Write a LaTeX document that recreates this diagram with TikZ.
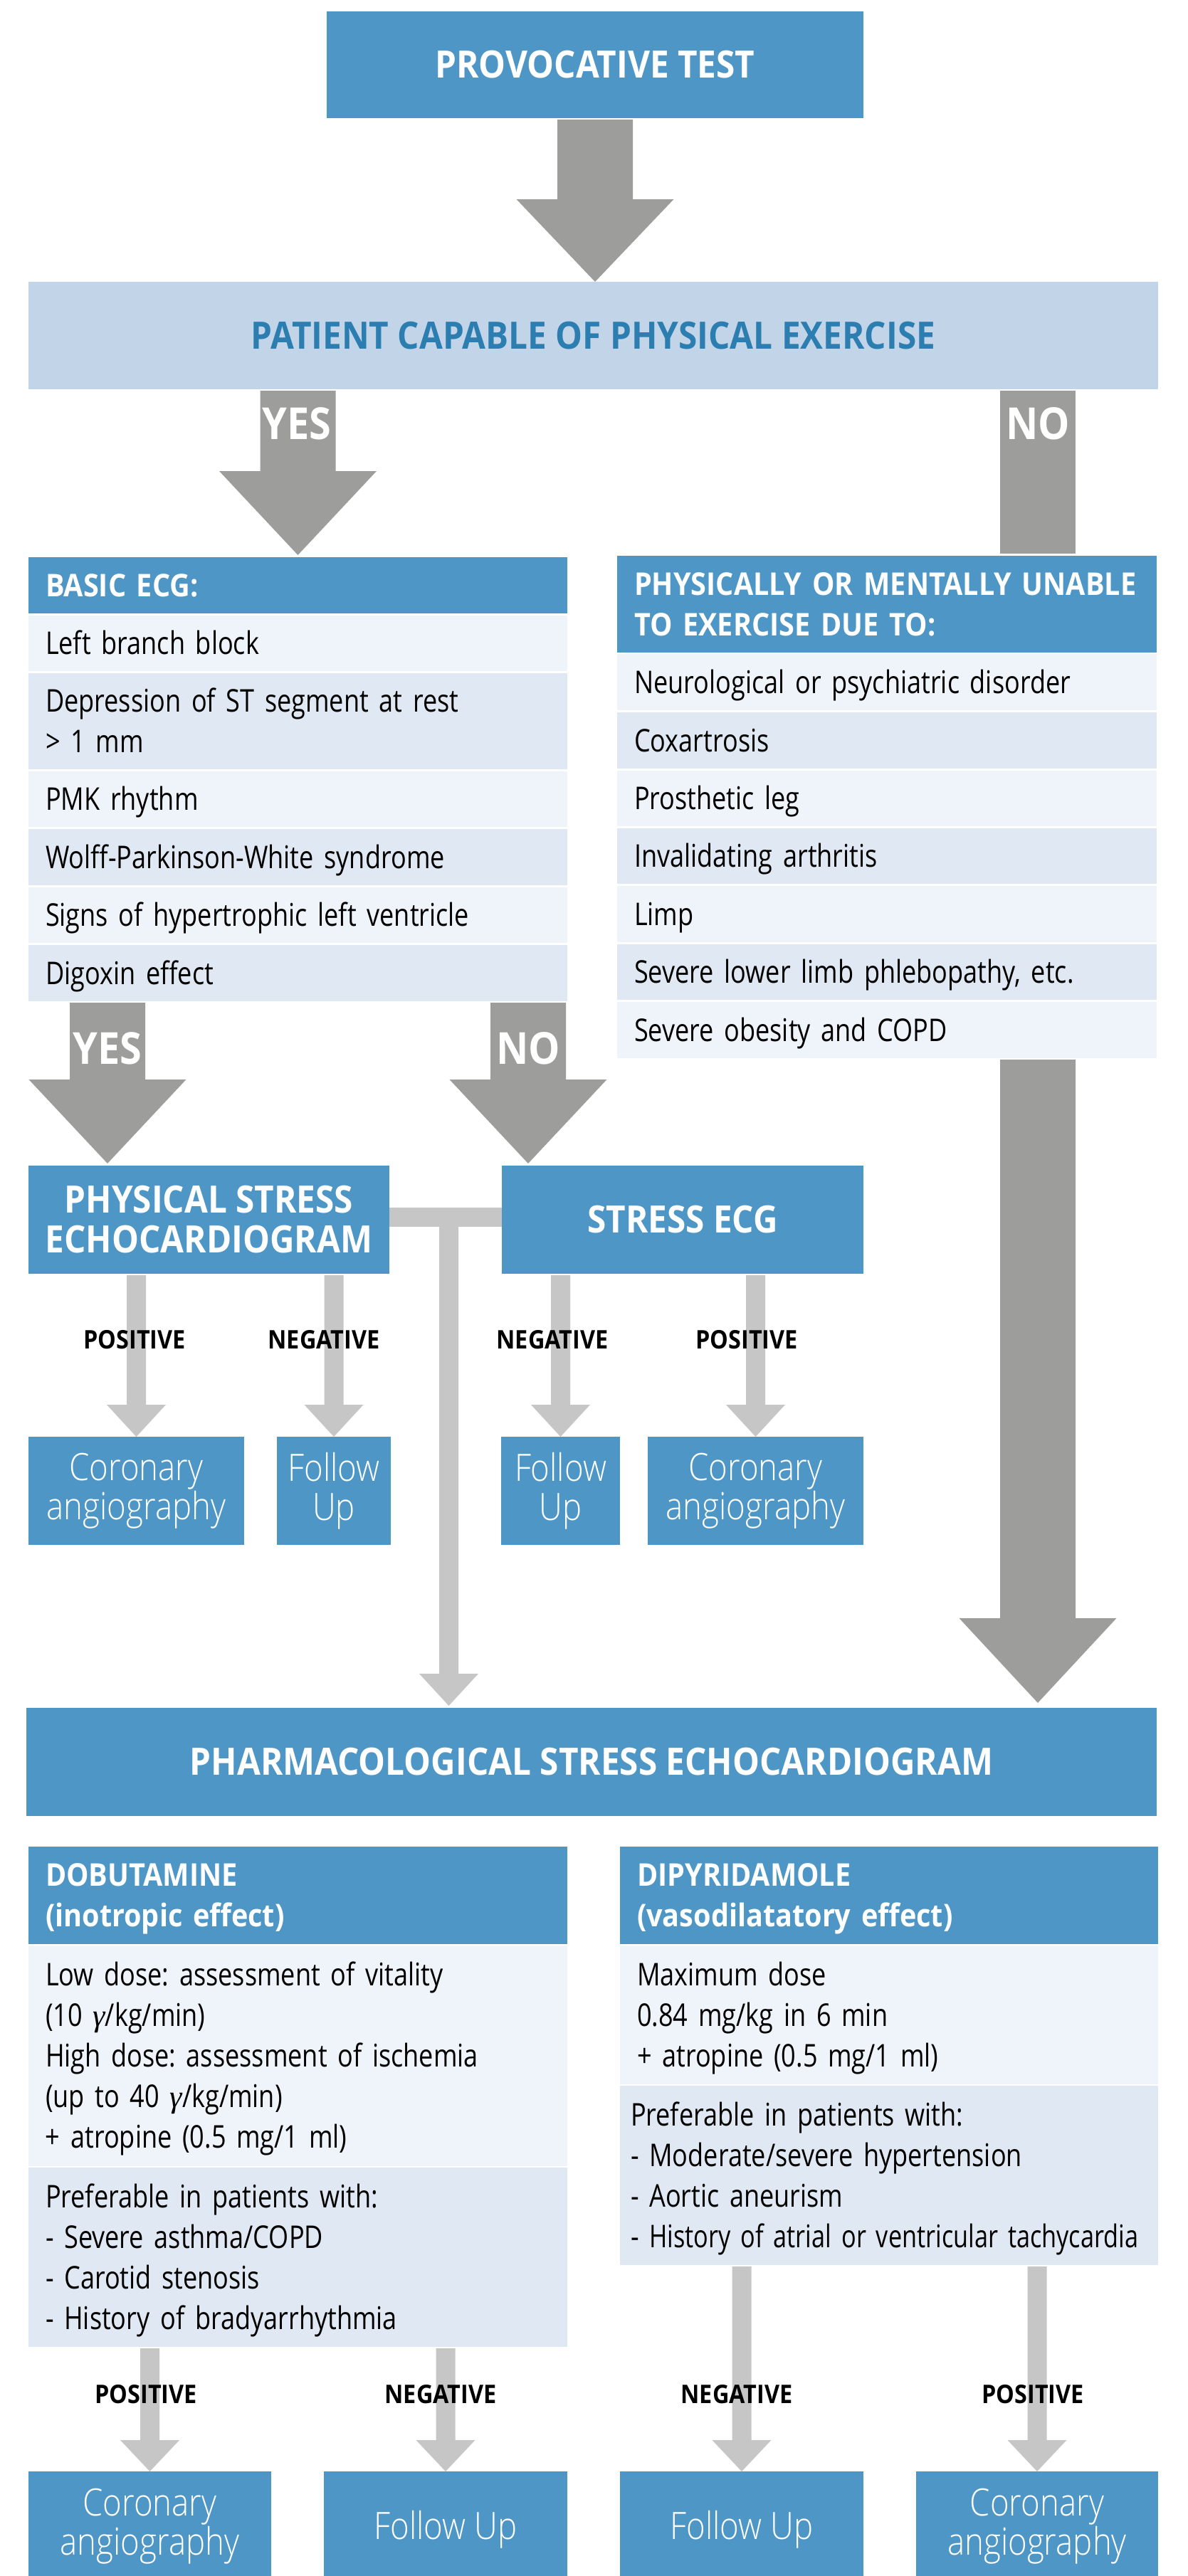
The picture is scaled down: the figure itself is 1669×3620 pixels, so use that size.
\documentclass[tikz,border=0pt]{standalone}
\usepackage{fontspec}
\usepackage{graphicx}
\setmainfont{Open Sans}[FakeStretch=0.82,BoldFeatures={FakeStretch=0.90}]
\newfontfamily\lightfont{Open Sans}[UprightFont=* Light,FakeStretch=0.86]
\newfontfamily\gfont{Liberation Serif}
\newcommand\gam{{\gfont\itshape γ}}
\usetikzlibrary{calc}
\frenchspacing
\definecolor{boxblue}{RGB}{78,150,197}
\definecolor{headlight}{RGB}{194,212,232}
\definecolor{titleblue}{RGB}{44,125,176}
\definecolor{darkarrow}{RGB}{157,157,156}
\definecolor{lightarrow}{RGB}{198,198,198}
\definecolor{rowlight}{RGB}{239,243,250}
\definecolor{rowdark}{RGB}{224,232,243}
\newcommand\rowstrut{\rule[-11pt]{0pt}{53.4pt}}
\newcommand\resstrut{\rule{0pt}{50.5pt}}
% #1 colour, #2 start, #3 end (same x), #4 half shaft, #5 half head, #6 head length
\newcommand\fatarrow[6]{%
  \fill[#1] let \p1=#2, \p2=#3 in
    (\x1-#4pt,\y1-2pt) -- (\x1+#4pt,\y1-2pt) -- (\x1+#4pt,\y2+#6pt) -- (\x1+#5pt,\y2+#6pt)
    -- (\x1,\y2) -- (\x1-#5pt,\y2+#6pt) -- (\x1-#4pt,\y2+#6pt) -- cycle;}
\begin{document}
\begin{tikzpicture}[x=1pt,y=-1pt,
  every node/.style={inner sep=0pt,outer sep=0pt},
  bluebox/.style={fill=boxblue,text=white,anchor=north west,align=center},
  titlefont/.style={font=\bfseries\fontsize{53}{56}\selectfont},
  resfont/.style={font=\lightfont\fontsize{53}{55}\selectfont,execute at begin node=\resstrut},
  headrow/.style={fill=boxblue,text=white,anchor=north west,align=left,
    font=\bfseries\fontsize{44}{57}\selectfont,inner xsep=24pt,
    execute at begin node=\rowstrut,execute at end node=\rowstrut},
  lightrow/.style={fill=rowlight,text=black,anchor=north west,align=left,
    font=\fontsize{44}{57}\selectfont,inner xsep=24pt,
    execute at begin node=\rowstrut,execute at end node=\rowstrut},
  darkrow/.style={lightrow,fill=rowdark},
  yesno/.style={text=white,font=\bfseries\fontsize{62}{62}\selectfont},
  reslabel/.style={text=black,font=\bfseries\fontsize{36}{36}\selectfont},
]
\fill[white] (0,0) rectangle (1669,3620);
\useasboundingbox (0,0) rectangle (1669,3620);

% ---------- top ----------
\node[bluebox,font=\bfseries\fontsize{53}{56}\selectfont,minimum width=754pt,minimum height=150pt] (prov) at (459,16) {PROVOCATIVE TEST};
\node[fill=headlight,text=titleblue,titlefont,anchor=north west,minimum width=1587pt,minimum height=151pt] (patient) at (40,396) {PATIENT CAPABLE OF PHYSICAL EXERCISE};

% ---------- basic ECG list ----------
\node[headrow,text width=709pt,minimum height=79pt] (ecgh) at (40,783) {BASIC ECG:};
\node[lightrow,text width=709pt,minimum height=78pt] (ecg1) at (40,865) {Left branch block};
\node[darkrow,text width=709pt,minimum height=135pt] (ecg2) at (40,946) {Depression of ST segment at rest\\> 1 mm};
\node[lightrow,text width=709pt,minimum height=78pt] (ecg3) at (40,1084) {PMK rhythm};
\node[darkrow,text width=709pt,minimum height=79pt] (ecg4) at (40,1165) {Wolff-Parkinson-White syndrome};
\node[lightrow,text width=709pt,minimum height=78pt] (ecg5) at (40,1247) {Signs of hypertrophic left ventricle};
\node[darkrow,text width=709pt,minimum height=79pt] (ecg6) at (40,1328) {Digoxin effect};

% ---------- unable list ----------
\node[headrow,text width=710pt,minimum height=136pt] (unh) at (867,781) {PHYSICALLY OR MENTALLY UNABLE\\TO EXERCISE DUE TO:};
\node[lightrow,text width=710pt,minimum height=79pt] (un1) at (867,919) {Neurological or psychiatric disorder};
\node[darkrow,text width=710pt,minimum height=79pt] (un2) at (867,1001) {Coxartrosis};
\node[lightrow,text width=710pt,minimum height=78pt] (un3) at (867,1083) {Prosthetic leg};
\node[darkrow,text width=710pt,minimum height=78pt] (un4) at (867,1164) {Invalidating arthritis};
\node[lightrow,text width=710pt,minimum height=79pt] (un5) at (867,1245) {Limp};
\node[darkrow,text width=710pt,minimum height=78pt] (un6) at (867,1327) {Severe lower limb phlebopathy, etc.};
\node[lightrow,text width=710pt,minimum height=79pt] (un7) at (867,1408) {Severe obesity and COPD};

% ---------- stress tests ----------
\node[bluebox,titlefont,minimum width=507pt,minimum height=152pt] (phys) at (40,1638) {PHYSICAL STRESS\\ECHOCARDIOGRAM};
\node[bluebox,titlefont,minimum width=508pt,minimum height=152pt] (secg) at (705,1638) {STRESS ECG};

\node[bluebox,resfont,minimum width=303pt,minimum height=152pt] (cor1) at (40,2019) {Coronary\\angiography};
\node[bluebox,resfont,minimum width=160pt,minimum height=152pt] (fu1) at (389,2019) {Follow\\Up};
\node[bluebox,resfont,minimum width=167pt,minimum height=152pt] (fu2) at (704,2019) {Follow\\Up};
\node[bluebox,resfont,minimum width=303pt,minimum height=152pt] (cor2) at (910,2019) {Coronary\\angiography};

% ---------- pharmacological ----------
\node[bluebox,titlefont,minimum width=1588pt,minimum height=152pt] (pharm) at (37,2400) {PHARMACOLOGICAL STRESS ECHOCARDIOGRAM};

\node[headrow,text width=709pt,minimum height=137pt] (dobh) at (40,2595) {DOBUTAMINE\\(inotropic effect)};
\node[lightrow,text width=709pt,minimum height=310pt] (dob1) at (40,2734) {Low dose: assessment of vitality\\(10 \gam/kg/min)\\High dose: assessment of ischemia\\(up to 40 \gam/kg/min)\\+ atropine (0.5 mg/1 ml)};
\node[darkrow,text width=709pt,minimum height=252pt] (dob2) at (40,3046) {Preferable in patients with:\\- Severe asthma/COPD\\- Carotid stenosis\\- History of bradyarrhythmia};

\node[headrow,text width=708pt,minimum height=137pt] (diph) at (871,2595) {DIPYRIDAMOLE\\(vasodilatatory effect)};
\node[lightrow,text width=708pt,minimum height=195pt] (dip1) at (871,2734) {Maximum dose\\0.84 mg/kg in 6 min\\+ atropine (0.5 mg/1 ml)};
\node[darkrow,inner xsep=15pt,text width=726pt,minimum height=252pt] (dip2) at (871,2931) {Preferable in patients with:\\- Moderate/severe hypertension\\- Aortic aneurism\\- \scalebox{0.95}[1]{History of atrial or ventricular tachycardia}};

\node[bluebox,resfont,minimum width=341pt,minimum height=154pt] (bcor1) at (40,3473) {Coronary\\angiography};
\node[bluebox,resfont,minimum width=342pt,minimum height=154pt] (bfu1) at (455,3473) {Follow Up};
\node[bluebox,resfont,minimum width=342pt,minimum height=154pt] (bfu2) at (871,3473) {Follow Up};
\node[bluebox,resfont,minimum width=340pt,minimum height=154pt] (bcor2) at (1287,3473) {Coronary\\angiography};

% ---------- column helpers ----------
\coordinate (xNO) at (1458,0);
\coordinate (xYES2) at (151,0);
\coordinate (xNO2) at (742,0);
\coordinate (xT) at (630.5,0);

% ---------- dark block arrows ----------
\fatarrow{darkarrow}{(prov.south)}{(patient.north)}{53}{110.5}{116}
\fatarrow{darkarrow}{(ecgh.north |- patient.south)}{($(ecgh.north)+(0,-3)$)}{53}{110.5}{118}
\fill[darkarrow] let \p1=(patient.south -| xNO), \p2=(unh.north -| xNO) in
  (\x1-53pt,\y1-2pt) rectangle (\x1+53pt,\y2+3pt);
\fatarrow{darkarrow}{(ecg6.south -| xYES2)}{($(phys.north -| xYES2)+(0,-3)$)}{53}{110.5}{118}
\fatarrow{darkarrow}{(ecg6.south -| xNO2)}{($(secg.north -| xNO2)+(0,-3)$)}{53}{110.5}{118}
\fatarrow{darkarrow}{(un7.south -| xNO)}{($(pharm.north -| xNO)+(0,-7)$)}{53}{110.5}{119}

% ---------- light connectors ----------
\fill[lightarrow] ($(phys.east)+(0,-17)$) rectangle ($(secg.west)+(0,10)$);
\fatarrow{lightarrow}{(phys.east -| xT)}{($(pharm.north -| xT)+(0,-3)$)}{13.5}{41.5}{45}
\fatarrow{lightarrow}{(phys.south -| cor1.north)}{(cor1.north)}{13.5}{41.5}{45}
\fatarrow{lightarrow}{(phys.south -| fu1.north)}{(fu1.north)}{13.5}{41.5}{45}
\fatarrow{lightarrow}{(secg.south -| fu2.north)}{(fu2.north)}{13.5}{41.5}{45}
\fatarrow{lightarrow}{(secg.south -| cor2.north)}{(cor2.north)}{13.5}{41.5}{45}
\fatarrow{lightarrow}{(dob2.south -| bcor1.north)}{(bcor1.north)}{13.5}{41.5}{44}
\fatarrow{lightarrow}{(dob2.south -| bfu1.north)}{(bfu1.north)}{13.5}{41.5}{44}
\fatarrow{lightarrow}{(dip2.south -| bfu2.north)}{(bfu2.north)}{13.5}{41.5}{44}
\fatarrow{lightarrow}{(dip2.south -| bcor2.north)}{(bcor2.north)}{13.5}{41.5}{44}

% ---------- labels ----------
\node[yesno] (yes1) at (417,595) {YES};
\node[yesno] (no1) at (1458,595) {NO};
\node[yesno] (yes2) at (151,1473) {YES};
\node[yesno] (no2) at (742,1473) {NO};

\node[reslabel] (l1) at (189,1883) {POSITIVE};
\node[reslabel] (l2) at (455,1883) {NEGATIVE};
\node[reslabel] (l3) at (776,1883) {NEGATIVE};
\node[reslabel] (l4) at (1049,1883) {POSITIVE};
\node[reslabel] (l5) at (205,3365) {POSITIVE};
\node[reslabel] (l6) at (619,3365) {NEGATIVE};
\node[reslabel] (l7) at (1035,3365) {NEGATIVE};
\node[reslabel] (l8) at (1451,3365) {POSITIVE};
\end{tikzpicture}
\end{document}
